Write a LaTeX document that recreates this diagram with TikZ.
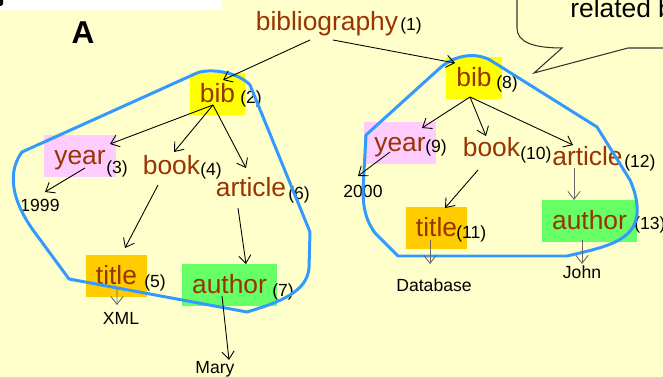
\documentclass[tikz,border=0pt]{standalone}
\usepackage{fontspec}
\setmainfont{Liberation Sans}
\usetikzlibrary{calc, arrows.meta}
\definecolor{paper}{RGB}{255,255,204}
\definecolor{tagBrown}{RGB}{153,51,0}
\definecolor{bibYellow}{RGB}{255,255,0}
\definecolor{yearPink}{RGB}{255,204,255}
\definecolor{titleOrange}{RGB}{255,204,0}
\definecolor{authorGreen}{RGB}{102,255,102}
\definecolor{matchBlue}{RGB}{51,153,255}

\begin{document}
\begin{tikzpicture}[
  x=0.02cm, y=-0.02cm,
  tag/.style={anchor=base, text=tagBrown, font=\fontsize{15}{18}\selectfont,
    text height=13pt, text depth=3pt, inner xsep=5.67pt, inner ysep=3.9pt},
  num/.style={anchor=base west, inner sep=0pt, font=\fontsize{10}{12}\selectfont},
  val/.style={anchor=base, inner sep=0pt, font=\fontsize{10}{12}\selectfont},
  link/.style={-{Straight Barb[length=4.5pt,width=7pt]}, line width=0.5pt},
  linkgrey/.style={link, black!60},
  blob/.style={draw=matchBlue, line width=1.7pt, line join=round},
]
% Page: 663 x 377 px, 1px = 0.02cm, y runs downwards
\fill[paper] (0,0) rectangle (663,377);
\useasboundingbox (0,0) rectangle (663,377);
\fill[white] (0,0) rectangle (222,10);
\fill[black, rounded corners=1pt] (-3,-3) rectangle (3,6);
\node[anchor=base, inner sep=0pt, font=\fontsize{18}{20}\selectfont\bfseries] (lblA) at (83,44) {A};

% Callout (cut by the top right edge)
\draw[black!80, line width=0.6pt] (517,-10) -- (517,28)
  .. controls (517,42) and (533,48) .. (562,48) -- (534,73) -- (628,48) -- (680,48);
\node[anchor=base west, inner sep=0pt, font=\fontsize{15}{18}\selectfont] (relText) at (570,18) {related b};

% Root
\node[tag] (biblio) at (327,31) {bibliography};
\node[num] (nBiblio) at (400,31) {(1)};

% Tree A: bib(2) ... author(7)
\node[tag, fill=bibYellow]   (bibA)     at (217.5,103) {bib};
\node[num]                   (nBibA)    at (240,104)   {(2)};
\node[tag, fill=yearPink]    (yearA)    at (80,165)    {year};
\node[num]                   (nYearA)   at (106,174)   {(3)};
\node[tag]                   (bookA)    at (171.5,175) {book};
\node[num]                   (nBookA)   at (200,176)   {(4)};
\node[tag]                   (articleA) at (251,197)   {article};
\node[num]                   (nArticleA) at (288,200)  {(6)};
\node[tag, fill=titleOrange] (titleA)   at (116.5,285) {title};
\node[num]                   (nTitleA)  at (144,288)   {(5)};
\node[tag, fill=authorGreen] (authorA)  at (229.5,294) {author};
\node[num]                   (nAuthorA) at (272,297)   {(7)};
\node[val] (v1999) at (40,212)  {1999};
\node[val] (vXml)  at (121,325) {XML};
\node[val] (vMary) at (215,374) {Mary};

% Tree B: bib(8) ... author(13)
\node[tag, fill=bibYellow]   (bibB)     at (474,87)    {bib};
\node[num]                   (nBibB)    at (496,89)    {(8)};
\node[tag, fill=yearPink]    (yearB)    at (400,152)   {year};
\node[num]                   (nYearB)   at (425,153)   {(9)};
\node[tag]                   (bookB)    at (491.5,157) {book};
\node[num]                   (nBookB)   at (520,160)   {(10)};
\node[tag]                   (articleB) at (587.5,166) {article};
\node[num]                   (nArticleB) at (624,168)  {(12)};
\node[tag, fill=titleOrange] (titleB)   at (436.5,237) {title};
\node[num]                   (nTitleB)  at (456,239)   {(11)};
\node[tag, fill=authorGreen] (authorB)  at (589.5,230) {author};
\node[num]                   (nAuthorB) at (634,230)   {(13)};
\node[val] (v2000)     at (363,198) {2000};
\node[val] (vDatabase) at (434,292) {Database};
\node[val] (vJohn)     at (582,279) {John};

% Matched regions
\draw[blob] (69,279) -- (33,230) .. controls (15,205) and (5,175) .. (22,152)
  -- (197,73) .. controls (210,68) and (238,72) .. (250,85) -- (310,232) -- (309,268)
  .. controls (307,292) and (280,302) .. (247,312) -- cycle;
\draw[blob] (398,256) -- (567,256) .. controls (610,246) and (640,240) .. (637,205)
  .. controls (636,195) and (633,187) .. (630,180) -- (597,127) -- (490,60)
  .. controls (475,52) and (455,55) .. (440,68) -- (366,135) -- (363,190)
  .. controls (363,210) and (367,222) .. (375,233) -- cycle;

% Edges, tree A
\draw[link] ($(biblio.base)+(-17,9)$) -- ($(bibA.base)+(5.5,-23)$);
\draw[link] ($(bibA.base)+(-4.5,2)$) -- ($(yearA.base)+(30,-21)$);
\draw[link] ($(bibA.base)+(-4.5,2)$) -- ($(bookA.base)+(2.5,-23)$);
\draw[link] ($(bibA.base)+(-4.5,2)$) -- ($(articleA.base)+(-5,-29)$);
\draw[link] ($(yearA.base)+(5,3)$) -- ($(v1999.base)+(5,-20)$);
\draw[link] ($(bookA.base)+(-13.5,10)$) -- ($(titleA.base)+(8.5,-37)$);
\draw[link] ($(articleA.base)+(-13,11)$) -- ($(authorA.base)+(16.5,-30)$);
\draw[linkgrey] ($(titleA.base)+(0.5,4)$) -- ($(vXml.base)+(-4,-20)$);
\draw[link] ($(authorA.base)+(-7.5,2)$) -- ($(vMary.base)+(14,-14)$);

% Edges, tree B
\draw[link] ($(biblio.base)+(6,9)$) -- ($(bibB.base)+(-19,-24)$);
\draw[link] ($(bibB.base)+(-4,10)$) -- ($(yearB.base)+(22,-24)$);
\draw[link] ($(bibB.base)+(-4,10)$) -- ($(bookB.base)+(-5.5,-21)$);
\draw[link] ($(bibB.base)+(-4,10)$) -- ($(articleB.base)+(-14.5,-21)$);
\draw[link] ($(yearB.base)+(-10,0)$) -- ($(v2000.base)+(-5,-22)$);
\draw[link] ($(bookB.base)+(-13.5,13)$) -- ($(titleB.base)+(8.5,-29)$);
\draw[linkgrey] ($(articleB.base)+(-13.5,2)$) -- ($(authorB.base)+(-15.5,-30)$);
\draw[linkgrey] ($(titleB.base)+(-6.5,3)$) -- ($(vDatabase.base)+(-4,-28)$);
\draw[linkgrey] ($(authorB.base)+(-7.5,10)$) -- ($(vJohn.base)+(0,-15)$);

\end{tikzpicture}
\end{document}
